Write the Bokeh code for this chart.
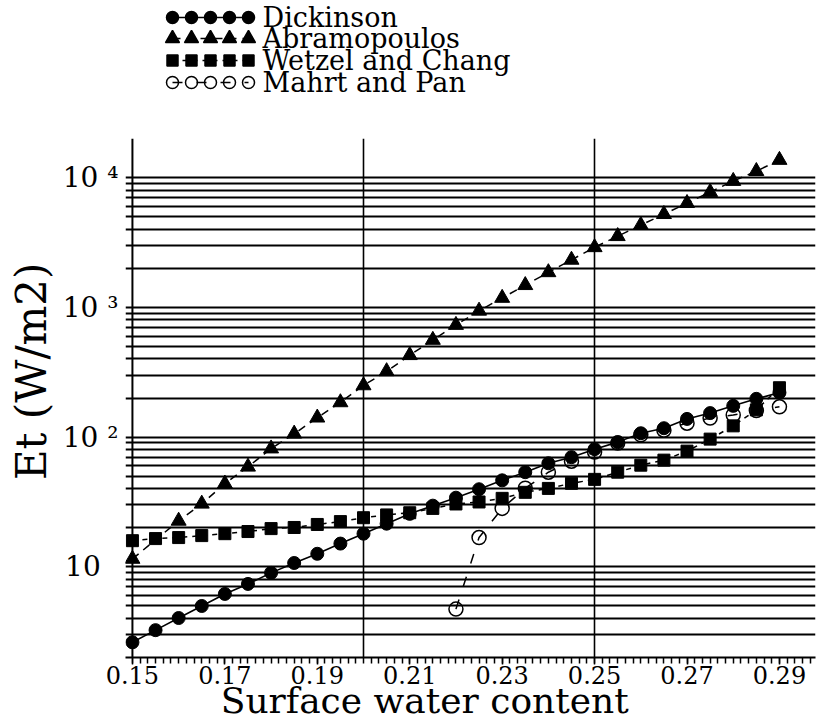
from bokeh.plotting import figure
from bokeh.models import Range1d, FixedTicker, Span
from bokeh.layouts import column
from bokeh.embed import file_html
from bokeh.resources import INLINE
from bokeh.core.properties import value

# ---------------- data ----------------
x_all = [0.150, 0.155, 0.160, 0.165, 0.170, 0.175, 0.180, 0.185, 0.190, 0.195,
         0.200, 0.205, 0.210, 0.215, 0.220, 0.225, 0.230, 0.235, 0.240, 0.245,
         0.250, 0.255, 0.260, 0.265, 0.270, 0.275, 0.280, 0.285, 0.290]

dickinson = [2.62, 3.25, 4.03, 4.99, 6.18, 7.38, 8.98, 10.7, 12.6, 15.1,
             18.0, 21.5, 25.6, 29.6, 34.1, 39.6, 46.4, 53.6, 62.8, 70.0,
             80.7, 91.4, 107, 117, 138, 153, 174, 197, 220]

x_abramopoulos = [0.150, 0.160, 0.165, 0.170, 0.175, 0.180, 0.185, 0.190, 0.195,
                  0.200, 0.205, 0.210, 0.215, 0.220, 0.225, 0.230, 0.235, 0.240,
                  0.245, 0.250, 0.255, 0.260, 0.265, 0.270, 0.275, 0.280, 0.285, 0.290]
abramopoulos = [11.5, 22.6, 30.6, 43.7, 59.0, 81.5, 106, 141, 185,
                250, 321, 427, 560, 730, 940, 1180, 1480, 1860,
                2320, 2900, 3530, 4300, 5220, 6350, 7730, 9400, 11200, 13650]

wetzel_chang = [15.9, 16.5, 16.8, 17.4, 18.0, 18.7, 19.7, 20.1, 21.2, 22.3,
                23.9, 25.1, 26.1, 28.2, 30.5, 31.6, 33.7, 37.5, 40.2, 44.0,
                47.2, 53.6, 60.7, 66.4, 77.9, 96.4, 122, 162, 240]

x_mahrt = [0.220, 0.225, 0.230, 0.235, 0.240, 0.245, 0.250, 0.255, 0.260,
           0.265, 0.270, 0.275, 0.280, 0.285, 0.290]
mahrt_pan = [4.72, 16.8, 28.2, 40.3, 53.6, 65.2, 76.6, 89.8, 104,
             113, 128, 140, 148, 160, 171]

series_names = ["Dickinson", "Abramopoulos", "Wetzel and Chang", "Mahrt and Pan"]

x_ticks = [0.15, 0.17, 0.19, 0.21, 0.23, 0.25, 0.27, 0.29]
x_tick_labels = ["0.15", "0.17", "0.19", "0.21", "0.23", "0.25", "0.27", "0.29"]
x_grid_values = [0.20, 0.25]

y_grid_values = [2, 3, 4, 5, 6, 7, 8, 9,
                 10, 20, 30, 40, 50, 60, 70, 80, 90,
                 100, 200, 300, 400, 500, 600, 700, 800, 900,
                 1000, 2000, 3000, 4000, 5000, 6000, 7000, 8000, 9000,
                 10000, 20000]
y_tick_labels = {10: "10\u00a0\u00a0", 100: "10 \u00b2", 1000: "10 \u00b3", 10000: "10 \u2074"}

x_title = "Surface water content"
y_title = "Et (W/m2)"

FONT = "DejaVu Serif"
BLACK = "black"
NBSP = "\u00a0"

# ---------------- main plot ----------------
p = figure(width=819, height=604,
           x_range=Range1d(0.1485, 0.2978), y_range=Range1d(2, 20000),
           y_axis_type="log", output_backend="svg", toolbar_location=None,
           min_border_left=125, min_border_right=4, min_border_top=19,
           min_border_bottom=66)
p.outline_line_color = None
p.background_fill_color = "white"
p.border_fill_color = "white"

xa = p.xaxis[0]
minor = [round(0.15 + k * 0.02 / 12, 6) for k in range(89)]
xa.ticker = FixedTicker(ticks=x_ticks, minor_ticks=minor)
xa.major_label_overrides = {t: s for t, s in zip(x_ticks, x_tick_labels)}
xa.major_label_text_font = FONT
xa.major_label_text_font_size = "24px"
xa.major_label_text_color = BLACK
xa.axis_line_color = BLACK
xa.axis_line_width = 2
xa.major_tick_line_color = BLACK
xa.minor_tick_line_color = BLACK
xa.major_tick_line_width = 1.5
xa.minor_tick_line_width = 1.5
xa.major_tick_out = 7
xa.major_tick_in = 0
xa.minor_tick_out = 6
xa.minor_tick_in = 0
xa.major_label_standoff = 1
xa.axis_label = x_title + NBSP * 8
xa.axis_label_text_font = FONT
xa.axis_label_text_font_size = "36px"
xa.axis_label_text_font_style = "normal"
xa.axis_label_text_color = BLACK
xa.axis_label_standoff = -7

ya = p.yaxis[0]
ya.ticker = FixedTicker(ticks=y_grid_values)
overrides = {v: "" for v in y_grid_values}
overrides.update(y_tick_labels)
ya.major_label_overrides = overrides
ya.major_label_text_font = FONT
ya.major_label_text_font_size = "28px"
ya.major_label_text_color = BLACK
ya.axis_line_color = None
ya.major_tick_line_color = None
ya.minor_tick_line_color = None
ya.major_tick_out = 0
ya.major_tick_in = 0
ya.minor_tick_out = 0
ya.minor_tick_in = 0
ya.major_label_standoff = 7
ya.axis_label = NBSP * 4 + y_title
ya.axis_label_text_font = FONT
ya.axis_label_text_font_size = "42px"
ya.axis_label_text_font_style = "normal"
ya.axis_label_text_color = BLACK
ya.axis_label_standoff = 4

p.xgrid.ticker = FixedTicker(ticks=x_grid_values)
p.xgrid.grid_line_color = BLACK
p.xgrid.grid_line_width = 1.6
p.ygrid.ticker = FixedTicker(ticks=y_grid_values)
p.ygrid.grid_line_color = BLACK
p.ygrid.grid_line_width = 1.8

p.add_layout(Span(location=0.15, dimension="height", line_color=BLACK, line_width=2))

# Abramopoulos
p.line(x_abramopoulos, abramopoulos, line_color=BLACK, line_width=1.5, line_dash="8 6")
p.scatter(x_abramopoulos, abramopoulos, marker="triangle", size=15,
          fill_color=BLACK, line_color=BLACK)
# Wetzel and Chang
p.line(x_all, wetzel_chang, line_color=BLACK, line_width=1.5, line_dash="5 5")
p.scatter(x_all, wetzel_chang, marker="square", size=12,
          fill_color=BLACK, line_color=BLACK)
# Dickinson
p.line(x_all, dickinson, line_color=BLACK, line_width=1.6)
p.scatter(x_all, dickinson, marker="circle", size=13,
          fill_color=BLACK, line_color=BLACK)
# Mahrt and Pan
p.line(x_mahrt, mahrt_pan, line_color=BLACK, line_width=1.5, line_dash="10 14")
p.scatter(x_mahrt, mahrt_pan, marker="circle", size=14,
          fill_color=None, line_color=BLACK, line_width=1.5)

# ---------------- legend (drawn above the plot) ----------------
lg = figure(width=819, height=119, x_range=Range1d(125, 815), y_range=Range1d(119, 0),
            output_backend="svg", toolbar_location=None, min_border=0,
            x_axis_location=None, y_axis_location=None)
lg.grid.visible = False
lg.outline_line_color = None
lg.background_fill_color = "white"
lg.border_fill_color = "white"

legend_row_y = [17, 38, 60, 82]
legend_marker_x = [172, 191, 210, 229, 248]
legend_text_x = 262
legend_styles = [
    dict(marker="circle", size=12, fill=BLACK, dash="solid"),
    dict(marker="triangle", size=14, fill=BLACK, dash="8 6"),
    dict(marker="square", size=11, fill=BLACK, dash="5 5"),
    dict(marker="circle", size=12, fill=None, dash="10 14"),
]
for name, ry, st in zip(series_names, legend_row_y, legend_styles):
    lg.line([legend_marker_x[0], legend_marker_x[-1]], [ry, ry], line_color=BLACK,
            line_width=1.5, line_dash=st["dash"])
    lg.scatter(legend_marker_x, [ry] * len(legend_marker_x), marker=st["marker"],
               size=st["size"], fill_color=st["fill"], line_color=BLACK, line_width=1.5)
    lg.text(x=[legend_text_x], y=[ry], text=[name], text_font=value(FONT),
            text_font_size=value("27px"), text_baseline="middle", text_align="left",
            text_color=BLACK)

layout = column(lg, p, spacing=0)
open("out.html", "w").write(file_html(layout, INLINE))
